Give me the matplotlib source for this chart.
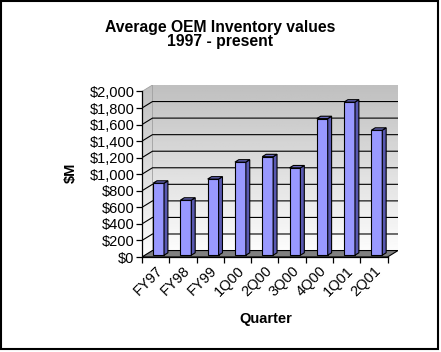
import numpy as np
import matplotlib
matplotlib.use("Agg")
import matplotlib.pyplot as plt
from matplotlib.patches import Polygon, Rectangle

# data
quarters = ["FY97", "FY98", "FY99", "1Q00", "2Q00", "3Q00", "4Q00", "1Q01", "2Q01"]
inventory = [870, 665, 920, 1125, 1190, 1055, 1650, 1850, 1510]
yticks = [0, 200, 400, 600, 800, 1000, 1200, 1400, 1600, 1800, 2000]

plt.rcParams['font.family'] = ['Liberation Sans', 'DejaVu Sans']

W, H = 441, 352
fig = plt.figure(figsize=(W / 100, H / 100), dpi=100)
fig.patch.set_facecolor('white')

n = len(quarters)
ymax = yticks[-1]
# fake 3d depth, in data units
DX = 0.384
DY = 78
d0, d1 = 0.28, 0.65   # bar front / back depth
bw = 0.40

ax = fig.add_axes([142 / W, 95 / H, 256 / W, 172 / H])
ax.set_facecolor('none')

# back wall gradient
grad = np.linspace(0.99, 0.75, 100).reshape(-1, 1)
ax.imshow(grad, extent=[DX, n + DX, DY, ymax + DY], origin='lower',
          cmap='gray', vmin=0, vmax=1, aspect='auto', zorder=0)
# side wall gradient
side = Polygon([(0, 0), (DX, DY), (DX, ymax + DY), (0, ymax)], closed=True,
               fc='none', ec='#a0a0a0', lw=0.6, zorder=1)
ax.add_patch(side)
im = ax.imshow(grad, extent=[0, DX, 0, ymax + DY], origin='lower',
               cmap='gray', vmin=0, vmax=1, aspect='auto', zorder=0)
im.set_clip_path(side)

# floor
ax.add_patch(Polygon([(0, 0), (n, 0), (n + DX, DY), (DX, DY)], closed=True,
                     fc='#808080', ec='black', lw=0.8, zorder=1))

# gridlines on side + back wall
for v in yticks[1:-1]:
    ax.plot([0, DX, n + DX], [v, v + DY, v + DY], color='black', lw=0.8, zorder=1)

# bars
for i, v in enumerate(inventory):
    x0 = i + 0.5 - bw / 2 + d0 * DX
    y0 = d0 * DY
    ddx = (d1 - d0) * DX
    ddy = (d1 - d0) * DY
    ax.add_patch(Rectangle((x0, y0), bw, v, fc='#9999ff', ec='black', lw=0.8, zorder=3))
    xr = x0 + bw
    ax.add_patch(Polygon([(xr, y0), (xr + ddx, y0 + ddy), (xr + ddx, y0 + v + ddy), (xr, y0 + v)],
                         closed=True, fc='#5858b0', ec='black', lw=0.8, zorder=3))
    ax.add_patch(Polygon([(x0, y0 + v), (xr, y0 + v), (xr + ddx, y0 + v + ddy), (x0 + ddx, y0 + v + ddy)],
                         closed=True, fc='#6a6ac0', ec='black', lw=0.8, zorder=3))

ax.set_xlim(0, n + DX)
ax.set_ylim(0, ymax + DY)

for s in ['top', 'right']:
    ax.spines[s].set_visible(False)
ax.spines['left'].set_bounds(0, ymax)
ax.spines['bottom'].set_bounds(0, n)
ax.spines['left'].set_linewidth(0.9)
ax.spines['bottom'].set_linewidth(0.9)

ax.set_yticks(yticks)
ax.set_yticklabels(['${:,}'.format(v) for v in yticks])
ax.tick_params(axis='y', length=4, width=0.9, pad=1.5, labelsize=10.5)

ax.set_xticks(range(n + 1))
ax.set_xticklabels([])
ax.set_xticks(np.arange(n) + 0.5, minor=True)
ax.set_xticklabels(quarters, minor=True, rotation=45, ha='right', va='top',
                   rotation_mode='anchor', fontsize=10.5)
ax.tick_params(axis='x', which='major', length=4, width=0.9)
ax.tick_params(axis='x', which='minor', length=0, pad=5)

# titles and axis labels
fig.text(220.5 / W, 1 - 32 / H, "Average OEM Inventory values", ha='center',
         va='baseline', fontsize=11.3, weight='bold')
fig.text(220.5 / W, 1 - 46 / H, "1997 - present", ha='center',
         va='baseline', fontsize=11.3, weight='bold')
fig.text(70.5 / W, 1 - 173 / H, "$M", rotation=90, ha='center', va='center',
         fontsize=10.5, weight='bold')
fig.text(265.5 / W, 1 - 319 / H, "Quarter", ha='center', va='center',
         fontsize=10.5, weight='bold')

# outer frame
fig.add_artist(Rectangle((1 / W, 3 / H), 437 / W, 348.5 / H, transform=fig.transFigure,
                         fill=False, ec='black', lw=1.5))

fig.savefig('out.png', dpi=100)
